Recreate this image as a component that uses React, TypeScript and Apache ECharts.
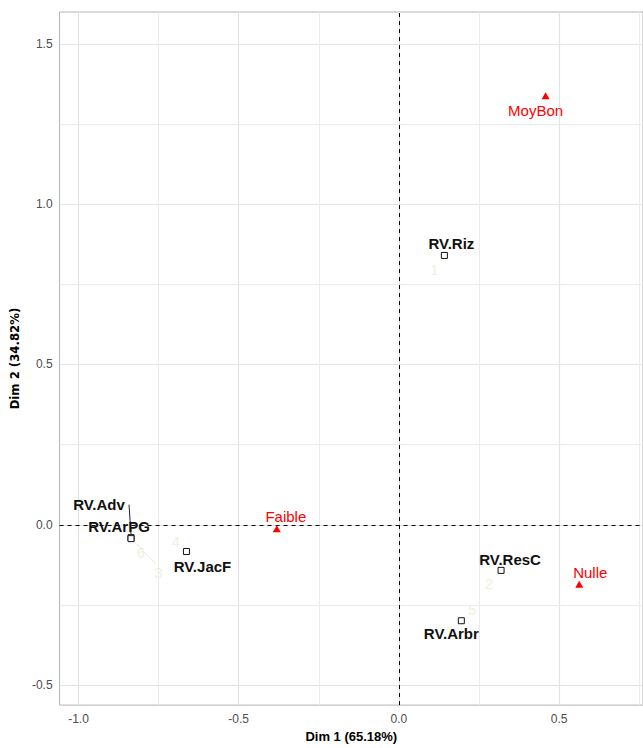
import React, { useEffect, useRef } from "react";
import * as echarts from "echarts";

// ---- data ----
const varNames = ["RV.Adv", "RV.ArPG", "RV.JacF", "RV.Riz", "RV.ResC", "RV.Arbr"];
const varDim1 = [-0.836, -0.836, -0.663, 0.142, 0.319, 0.195];
const varDim2 = [-0.04, -0.043, -0.083, 0.84, -0.142, -0.299];

const modNames = ["MoyBon", "Faible", "Nulle"];
const modDim1 = [0.458, -0.381, 0.563];
const modDim2 = [1.338, -0.012, -0.185];

const indNames = ["1", "2", "3", "4", "5", "6"];
const indDim1 = [0.111, 0.282, -0.832, -0.697, 0.229, -0.805];
const indDim2 = [0.796, -0.182, -0.046, -0.052, -0.265, -0.086];

const xTicks = [-1.0, -0.5, 0.0, 0.5];
const yTicks = [-0.5, 0.0, 0.5, 1.0, 1.5];
const xMinor = [-0.75, -0.25, 0.25, 0.75];
const yMinor = [-0.25, 0.25, 0.75, 1.25];

// ---- layout (label offsets in px, repel-like) ----
const varLabelOffset: number[][] = [[-32, -33], [-12, -12], [16, 15], [7, -12], [9, -11], [-10, 13]];
const modLabelOffset: number[][] = [[-10, 15], [9, -12], [11, -12]];
const indLabelOffset: number[][] = [[0, 0], [0, 0], [26, 33], [0, 0], [0, 0], [0, 0]];
// segments relative to point pixel: [x1,y1,x2,y2]
const varSegments: (number[] | null)[] = [[-2, -33, 0, -3], null, null, null, null, null];
const indSegments: (number[] | null)[] = [null, null, [0, 0, 24, 25], null, null, null];

const FONT = "'Liberation Sans', Arial, Helvetica, sans-serif";

const fmt = (v: number) =>
  Math.abs(v * 2 - Math.round(v * 2)) < 1e-6 ? v.toFixed(1) : "";

export default function App() {
  const ref = useRef<HTMLDivElement>(null);
  useEffect(() => {
    if (!ref.current) return;
    const chart = echarts.init(ref.current, null, { renderer: "svg" });
    const option: any = {
      animation: false,
      backgroundColor: "#ffffff",
      textStyle: { fontFamily: FONT },
      grid: {
        left: 58,
        top: 12,
        width: 588,
        height: 700,
        show: true,
        borderColor: "#b3b3b3",
        borderWidth: 1,
        backgroundColor: "#ffffff",
      },
      xAxis: {
        type: "value",
        min: -1.059,
        max: 0.762,
        splitNumber: 4,
        axisLine: { show: false },
        splitLine: { show: false },
        axisTick: { show: true, length: 4, lineStyle: { color: "#b3b3b3" }, customValues: xTicks },
        axisLabel: {
          customValues: xTicks,
          formatter: fmt,
          color: "#4d4d4d",
          fontSize: 12,
          margin: 8,
          fontFamily: FONT,
        },
        name: "Dim 1 (65.18%)",
        nameLocation: "middle",
        nameGap: 22,
        nameTextStyle: { fontWeight: "bold", fontSize: 13, color: "#000", fontFamily: FONT },
      },
      yAxis: {
        type: "value",
        min: -0.562,
        max: 1.599,
        splitNumber: 4,
        axisLine: { show: false },
        splitLine: { show: false },
        axisTick: { show: true, length: 4, lineStyle: { color: "#b3b3b3" }, customValues: yTicks },
        axisLabel: {
          customValues: yTicks,
          formatter: fmt,
          color: "#4d4d4d",
          fontSize: 12,
          margin: 7,
          fontFamily: FONT,
        },
        name: "Dim 2 (34.82%)",
        nameLocation: "middle",
        nameGap: 37,
        nameTextStyle: {
          fontWeight: "bold",
          fontSize: 13,
          color: "#000",
          fontFamily: "'DejaVu Sans Condensed', 'DejaVu Sans', sans-serif",
        },
      },
      series: [
        {
          type: "scatter",
          name: "grid",
          data: [],
          silent: true,
          z: 1,
          markLine: {
            silent: true,
            symbol: ["none", "none"],
            label: { show: false },
            animation: false,
            data: [
              ...xTicks.map((v) => ({ xAxis: v, lineStyle: { color: "#e3e3e3", width: 1.2, type: "solid" } })),
              ...yTicks.map((v) => ({ yAxis: v, lineStyle: { color: "#e3e3e3", width: 1.2, type: "solid" } })),
              ...xMinor.map((v) => ({ xAxis: v, lineStyle: { color: "#ebebeb", width: 1, type: "solid" } })),
              ...yMinor.map((v) => ({ yAxis: v, lineStyle: { color: "#ebebeb", width: 1, type: "solid" } })),
            ],
          },
        },
        {
          type: "scatter",
          name: "zero",
          data: [],
          silent: true,
          z: 2,
          markLine: {
            silent: true,
            symbol: ["none", "none"],
            label: { show: false },
            animation: false,
            lineStyle: { color: "#000", width: 1, type: [4, 4] },
            data: [{ xAxis: 0 }, { yAxis: 0 }],
          },
        },
        {
          type: "scatter",
          name: "ind",
          z: 3,
          symbolSize: 0,
          silent: true,
          data: indNames.map((n, i) => ({
            name: n,
            value: [indDim1[i], indDim2[i]],
            label: { offset: indLabelOffset[i] },
          })),
          label: {
            show: true,
            position: "inside",
            formatter: (p: any) => p.name,
            color: "#ecebd2",
            fontSize: 15,
            fontFamily: FONT,
          },
        },
        {
          type: "scatter",
          name: "var",
          z: 5,
          symbol: "rect",
          symbolSize: 6,
          itemStyle: { color: "#ffffff", borderColor: "#111", borderWidth: 1, opacity: 1 },
          data: varNames.map((n, i) => ({
            name: n,
            value: [varDim1[i], varDim2[i]],
            label: { offset: varLabelOffset[i] },
          })),
          label: {
            show: true,
            position: "inside",
            formatter: (p: any) => p.name,
            color: "#111",
            fontSize: 15,
            fontWeight: "bold",
            fontFamily: FONT,
          },
        },
        {
          type: "scatter",
          name: "mod",
          z: 5,
          symbol: "triangle",
          symbolSize: [8, 7],
          itemStyle: { color: "#ff0000", opacity: 1 },
          data: modNames.map((n, i) => ({
            name: n,
            value: [modDim1[i], modDim2[i]],
            label: { offset: modLabelOffset[i] },
          })),
          label: {
            show: true,
            position: "inside",
            formatter: (p: any) => p.name,
            color: "#ff0000",
            fontSize: 15,
            fontFamily: FONT,
          },
        },
      ],
    };
    chart.setOption(option);

    const lines: any[] = [];
    const addSeg = (x: number, y: number, seg: number[] | null, color: string) => {
      if (!seg) return;
      const p = chart.convertToPixel({ gridIndex: 0 }, [x, y]) as number[];
      lines.push({
        type: "line",
        silent: true,
        z: 4,
        shape: { x1: p[0] + seg[0], y1: p[1] + seg[1], x2: p[0] + seg[2], y2: p[1] + seg[3] },
        style: { stroke: color, lineWidth: 1 },
      });
    };
    varNames.forEach((_, i) => addSeg(varDim1[i], varDim2[i], varSegments[i], "#222"));
    indNames.forEach((_, i) => addSeg(indDim1[i], indDim2[i], indSegments[i], "#ecebd2"));
    chart.setOption({ graphic: lines });

    return () => chart.dispose();
  }, []);
  return (
    <div
      ref={ref}
      style={{ position: "fixed", left: 0, top: 0, width: 643, height: 748, background: "#fff" }}
    />
  );
}
